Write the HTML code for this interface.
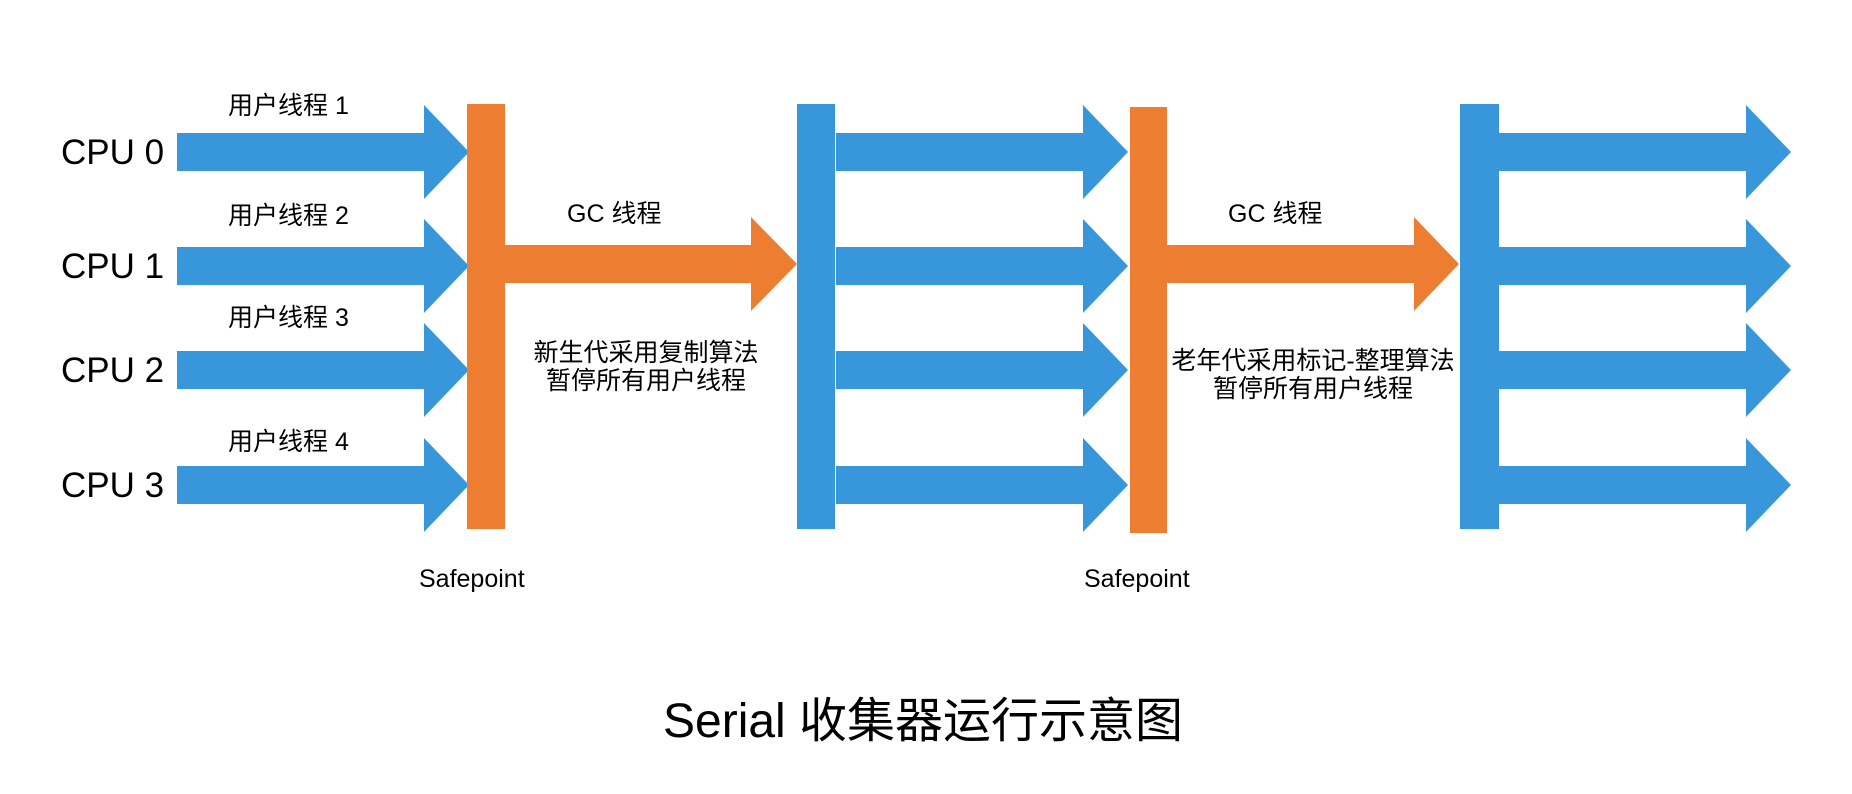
<!DOCTYPE html>
<html><head><meta charset="utf-8"><style>
html,body{margin:0;padding:0;background:#fff;}
svg{display:block;}
text{font-family:"Liberation Sans","Noto Sans CJK SC",sans-serif;fill:#000;}
</style></head><body>
<svg width="1852" height="794" viewBox="0 0 1852 794" xmlns="http://www.w3.org/2000/svg">
<defs>
<g id="ba"><polygon points="0,-19 247,-19 247,-47 292,0 247,47 247,19 0,19" fill="#3897db"/></g>
</defs>
<use href="#ba" x="177" y="152"/>
<use href="#ba" x="177" y="266"/>
<use href="#ba" x="177" y="370"/>
<use href="#ba" x="177" y="485"/>
<use href="#ba" x="836" y="152"/>
<use href="#ba" x="836" y="266"/>
<use href="#ba" x="836" y="370"/>
<use href="#ba" x="836" y="485"/>
<use href="#ba" x="1499" y="152"/>
<use href="#ba" x="1499" y="266"/>
<use href="#ba" x="1499" y="370"/>
<use href="#ba" x="1499" y="485"/>
<rect x="467" y="104" width="38" height="425" fill="#ed7d31"/>
<rect x="797" y="104" width="38" height="425" fill="#3897db"/>
<rect x="1130" y="107" width="37" height="426" fill="#ed7d31"/>
<rect x="1460" y="104" width="39" height="425" fill="#3897db"/>
<polygon points="505,245 751,245 751,217 797,264 751,311 751,283 505,283" fill="#ed7d31"/>
<polygon points="1167,245 1414,245 1414,217 1459,264 1414,311 1414,283 1167,283" fill="#ed7d31"/>
<g font-size="35">
<text x="61" y="164">CPU 0</text>
<text x="61" y="278">CPU 1</text>
<text x="61" y="382">CPU 2</text>
<text x="61" y="497">CPU 3</text>
</g>
<g font-size="25">
<text x="228" y="114">用户线程 1</text>
<text x="228" y="224">用户线程 2</text>
<text x="228" y="326">用户线程 3</text>
<text x="228" y="450">用户线程 4</text>
<text x="567" y="222">GC 线程</text>
<text x="1228" y="222">GC 线程</text>
<text x="646" y="361" text-anchor="middle">新生代采用复制算法</text>
<text x="646" y="389" text-anchor="middle">暂停所有用户线程</text>
<text x="1313" y="369" text-anchor="middle">老年代采用标记-整理算法</text>
<text x="1313" y="397" text-anchor="middle">暂停所有用户线程</text>
<text x="419" y="587">Safepoint</text>
<text x="1084" y="587">Safepoint</text>
</g>
<text x="663" y="737" font-size="48">Serial 收集器运行示意图</text>
</svg>
</body></html>
